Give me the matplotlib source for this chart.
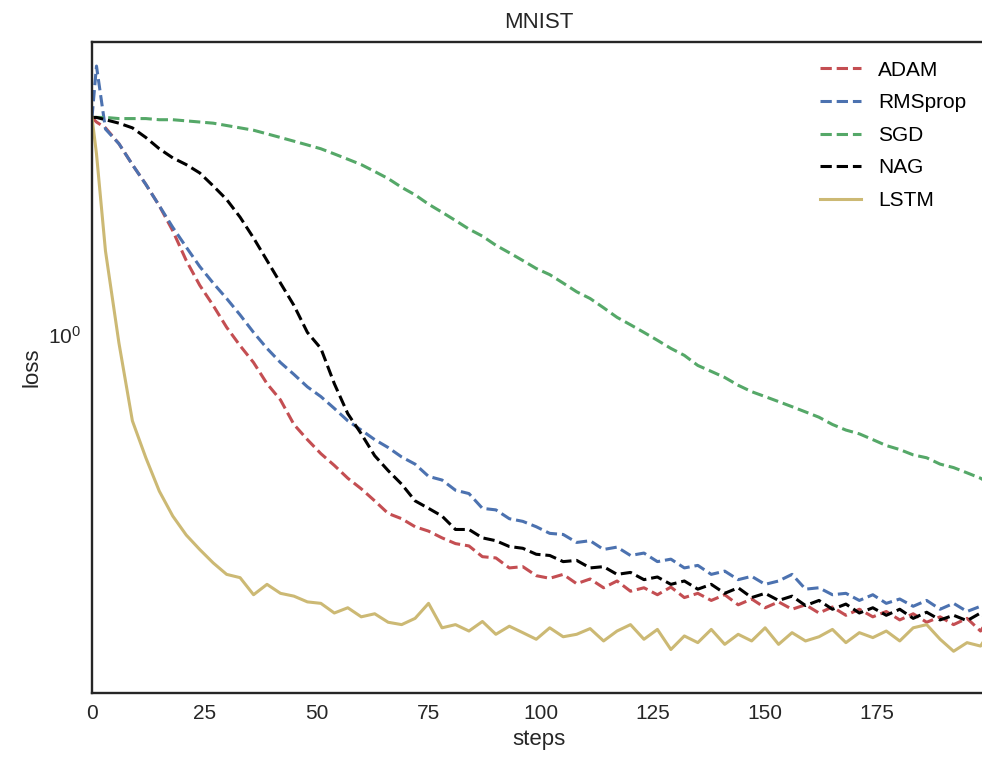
import matplotlib
matplotlib.use("Agg")
import matplotlib.pyplot as plt
import matplotlib.ticker as mticker
import numpy as np

steps = np.r_[0, 1, np.arange(3, 199, 3), 199]

adam = [2.30, 2.26, 2.21, 2.08, 1.92, 1.78, 1.64, 1.49, 1.33, 1.21,
        1.12, 1.03, 0.96, 0.90, 0.83, 0.78, 0.71, 0.67, 0.635, 0.607,
        0.578, 0.555, 0.53, 0.505, 0.495, 0.48, 0.472, 0.46, 0.45, 0.446,
        0.428, 0.426, 0.41, 0.412, 0.398, 0.394, 0.40, 0.386, 0.393, 0.38,
        0.39, 0.375, 0.38, 0.37, 0.381, 0.366, 0.372, 0.362, 0.37, 0.356,
        0.364, 0.352, 0.36, 0.35, 0.356, 0.345, 0.353, 0.342, 0.35, 0.34,
        0.347, 0.336, 0.344, 0.333, 0.34, 0.33, 0.338, 0.322, 0.33]

rmsprop = [2.30, 2.80, 2.20, 2.08, 1.92, 1.78, 1.64, 1.51, 1.40, 1.30,
           1.22, 1.15, 1.08, 1.01, 0.95, 0.90, 0.86, 0.82, 0.79, 0.755,
           0.72, 0.695, 0.67, 0.65, 0.627, 0.61, 0.582, 0.574, 0.552, 0.545,
           0.515, 0.512, 0.495, 0.49, 0.48, 0.468, 0.466, 0.452, 0.455, 0.44,
           0.444, 0.43, 0.434, 0.42, 0.424, 0.41, 0.414, 0.40, 0.405, 0.392,
           0.397, 0.385, 0.39, 0.40, 0.378, 0.38, 0.37, 0.372, 0.362, 0.37,
           0.358, 0.364, 0.354, 0.362, 0.35, 0.358, 0.347, 0.354, 0.355]

sgd = [2.30, 2.30, 2.30, 2.29, 2.29, 2.29, 2.28, 2.28, 2.27, 2.26,
       2.25, 2.23, 2.21, 2.19, 2.16, 2.13, 2.10, 2.07, 2.04, 2.00,
       1.96, 1.92, 1.87, 1.82, 1.76, 1.71, 1.65, 1.60, 1.55, 1.50,
       1.46, 1.41, 1.37, 1.33, 1.29, 1.26, 1.22, 1.18, 1.15, 1.11,
       1.07, 1.04, 1.01, 0.98, 0.95, 0.925, 0.89, 0.87, 0.85, 0.825,
       0.805, 0.79, 0.775, 0.76, 0.745, 0.73, 0.71, 0.695, 0.685, 0.67,
       0.655, 0.645, 0.632, 0.625, 0.61, 0.602, 0.59, 0.578, 0.572]

nag = [2.30, 2.30, 2.28, 2.25, 2.21, 2.13, 2.04, 1.97, 1.92, 1.86,
       1.77, 1.68, 1.57, 1.45, 1.33, 1.22, 1.12, 1.01, 0.95, 0.83,
       0.74, 0.685, 0.63, 0.595, 0.565, 0.53, 0.515, 0.50, 0.475, 0.475,
       0.46, 0.455, 0.445, 0.442, 0.432, 0.43, 0.42, 0.422, 0.41, 0.412,
       0.40, 0.403, 0.392, 0.396, 0.385, 0.39, 0.378, 0.385, 0.372, 0.38,
       0.366, 0.372, 0.362, 0.368, 0.355, 0.362, 0.35, 0.357, 0.345, 0.352,
       0.342, 0.35, 0.338, 0.346, 0.336, 0.342, 0.335, 0.345, 0.34]

lstm = [2.30, 2.00, 1.38, 0.97, 0.72, 0.625, 0.55, 0.50, 0.465, 0.44,
        0.418, 0.40, 0.395, 0.37, 0.385, 0.372, 0.368, 0.36, 0.358, 0.345,
        0.352, 0.34, 0.344, 0.333, 0.33, 0.338, 0.358, 0.326, 0.33, 0.322,
        0.334, 0.318, 0.328, 0.32, 0.312, 0.326, 0.315, 0.318, 0.325, 0.31,
        0.322, 0.33, 0.312, 0.324, 0.30, 0.316, 0.308, 0.324, 0.306, 0.318,
        0.31, 0.326, 0.306, 0.32, 0.31, 0.315, 0.324, 0.308, 0.32, 0.314,
        0.322, 0.31, 0.326, 0.33, 0.312, 0.298, 0.308, 0.304, 0.312]

series = [("ADAM", adam, "#C44E52", "--"),
          ("RMSprop", rmsprop, "#4C72B0", "--"),
          ("SGD", sgd, "#55A868", "--"),
          ("NAG", nag, "#000000", "--"),
          ("LSTM", lstm, "#CCB974", "-")]

plt.rcParams["font.family"] = ["Liberation Sans Narrow", "Liberation Sans", "DejaVu Sans"]

fig = plt.figure(figsize=(9.82, 7.63), dpi=100)
ax = fig.add_axes([92 / 982, 70 / 763, 893 / 982, 651 / 763])

for name, vals, col, ls in series:
    ax.plot(steps, vals, ls, color=col, lw=2.2, label=name)

ax.set_yscale("log")
ax.set_xlim(0, 199)
ax.set_ylim(0.254, 3.07)
ax.set_xticks([0, 25, 50, 75, 100, 125, 150, 175])
ax.yaxis.set_major_locator(mticker.FixedLocator([1.0]))
ax.yaxis.set_minor_formatter(mticker.NullFormatter())
ax.tick_params(which="both", length=0, labelsize=15, colors="#262626", pad=8)

for sp in ax.spines.values():
    sp.set_color("#262626")
    sp.set_linewidth(1.7)

ax.set_title("MNIST", fontsize=16, color="#262626", pad=10)
ax.set_xlabel("steps", fontsize=16, color="#262626")
ax.set_ylabel("loss", fontsize=16, color="#262626")

ax.legend(loc="upper right", frameon=False, fontsize=15, handlelength=2.0,
          labelspacing=0.65)

fig.savefig("out.png", dpi=100)
